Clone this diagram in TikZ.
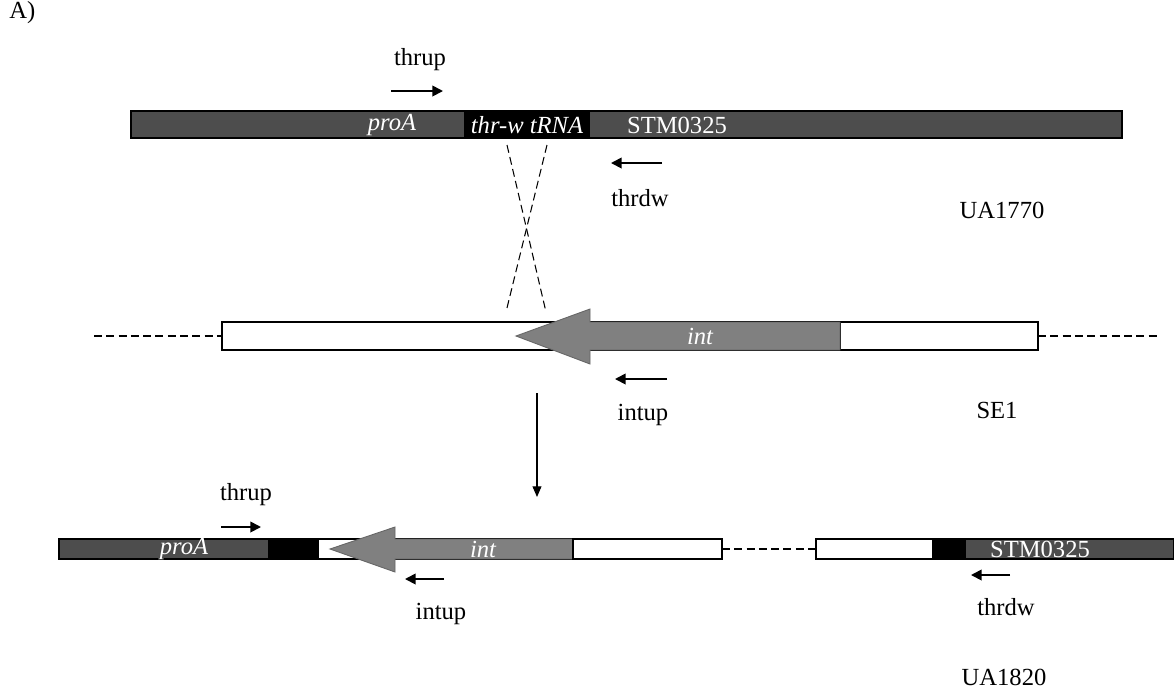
\documentclass[tikz,border=0pt]{standalone}
\usepackage{fontspec}
\setmainfont{Liberation Serif}
\usetikzlibrary{arrows.meta, positioning}
\definecolor{geneGray}{HTML}{4D4D4D}
\definecolor{intGray}{HTML}{808080}
\newcommand{\mapfont}{\fontsize{14}{16}\selectfont}
\tikzset{
  darkseg/.style={fill=geneGray},
  trnaseg/.style={fill=black},
  blankseg/.style={draw, fill=white, line width=0.7pt},
  barline/.style={draw, line width=0.7pt},
  intarrow/.style={fill=intGray, draw=intGray!80!black, line width=0.5pt},
  seglbl/.style={text=white, font=\mapfont\itshape, inner sep=0pt},
  seglblup/.style={text=white, font=\mapfont, inner sep=0pt},
  primer/.style={-{Triangle[length=6pt, width=6pt]}, line width=1pt},
  gap/.style={dash pattern=on 4.5pt off 2.5pt, line width=0.6pt},
}

\begin{document}
\begin{tikzpicture}[x=0.02cm, y=-0.02cm, font=\mapfont]
  \useasboundingbox (0,0) rectangle (1174,691);

  \node[anchor=west, inner sep=0pt] (panel) at (9,13) {A)};

  % UA1770 row
  \fill[darkseg] (131,111) rectangle (464,138);
  \fill[trnaseg] (464,111) rectangle (590,138);
  \fill[darkseg] (590,111) rectangle (1122,138);
  \draw[barline] (131,111) rectangle (1122,138);
  \node[seglbl] (proA) at (392,125) {proA};
  \node[seglbl] (trna) at (527,125) {thr-w tRNA};
  \node[seglblup] (stm) at (677,125) {STM0325};

  \node (thrup) at (420,60) {thrup};
  \coordinate (thrupS) at (391,91);
  \coordinate (thrupE) at (443,91);
  \draw[primer] (thrupS) -- (thrupE);
  \node (thrdw) at (640,198) {thrdw};
  \coordinate (thrdwS) at (662,163);
  \coordinate (thrdwE) at (611,163);
  \draw[primer] (thrdwS) -- (thrdwE);
  \node (ua1770) at (1002,210) {UA1770};

  % crossover
  \coordinate (xa) at (507,145);
  \coordinate (xb) at (547,145);
  \coordinate (xc) at (546,312);
  \coordinate (xd) at (506,312);
  \draw[gap] (xa) -- (xc);
  \draw[gap] (xb) -- (xd);

  % SE1 row
  \coordinate (se1L) at (94,336);
  \coordinate (se1R) at (1160,336);
  \draw[gap] (se1L) -- (222,336);
  \draw[gap] (1038,336) -- (se1R);
  \draw[blankseg] (222,322) rectangle (840,350);
  \draw[blankseg] (840,322) rectangle (1038,350);
  \draw[intarrow] (516,336) -- (590,309) -- (590,322) -- (840,322)
    -- (840,350) -- (590,350) -- (590,364) -- cycle;
  \node[seglbl] (int1) at (700,336) {int};

  \node (intup1) at (643,415) {intup};
  \coordinate (intup1S) at (667,379);
  \coordinate (intup1E) at (615,379);
  \draw[primer] (intup1S) -- (intup1E);
  \node (se1) at (997,410) {SE1};

  \coordinate (insS) at (537,393);
  \coordinate (insE) at (537,497);
  \draw[-{Triangle[length=6pt, width=5pt]}, line width=0.6pt] (insS) -- (insE);

  % UA1820 row
  \fill[darkseg] (59,539) rectangle (268,559);
  \fill[trnaseg] (268,539) rectangle (318,559);
  \draw[barline] (59,539) rectangle (318,559);
  \draw[blankseg] (318,539) rectangle (573,559);
  \draw[intarrow] (330,549) -- (395,527) -- (395,539) -- (573,539)
    -- (573,559) -- (395,559) -- (395,572) -- cycle;
  \draw[blankseg] (573,539) rectangle (722,559);
  \node[seglbl] (proA2) at (184,549) {proA};
  \node[seglbl] (int2) at (483,549) {int};
  \draw[gap] (722,549) -- (816,549);
  \draw[blankseg] (816,539) rectangle (933,559);
  \fill[trnaseg] (933,539) rectangle (966,559);
  \fill[darkseg] (966,539) rectangle (1174,559);
  \draw[barline] (933,539) rectangle (1174,559);
  \node[seglblup] (stm2) at (1040,549) {STM0325};

  \node (thrup2) at (246,495) {thrup};
  \coordinate (thrup2S) at (221,527);
  \coordinate (thrup2E) at (261,527);
  \draw[primer] (thrup2S) -- (thrup2E);
  \node (intup2) at (441,614) {intup};
  \coordinate (intup2S) at (444,579);
  \coordinate (intup2E) at (405,579);
  \draw[primer] (intup2S) -- (intup2E);
  \node (thrdw2) at (1006,607) {thrdw};
  \coordinate (thrdw2S) at (1010,575);
  \coordinate (thrdw2E) at (971,575);
  \draw[primer] (thrdw2S) -- (thrdw2E);
  \node (ua1820) at (1004,677) {UA1820};
\end{tikzpicture}
\end{document}
